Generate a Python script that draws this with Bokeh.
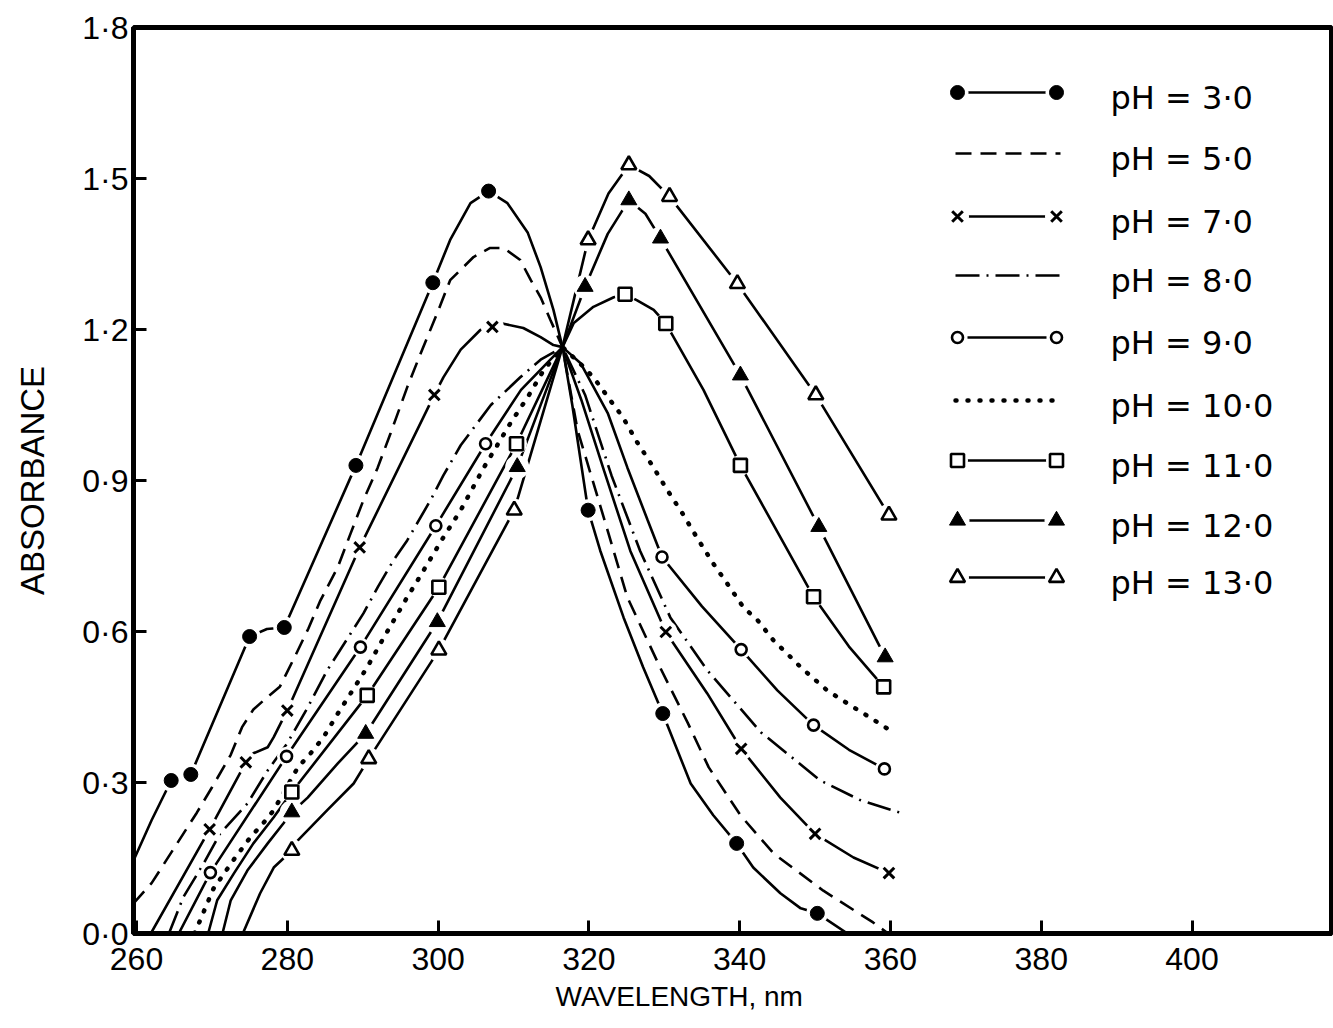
from bokeh.plotting import figure
from bokeh.models import Range1d, FixedTicker, Title, ColumnDataSource
from bokeh.core.properties import value
from bokeh.embed import file_html
from bokeh.resources import INLINE

# ---------------- data ----------------
X_TICKS = [260, 280, 300, 320, 340, 360, 380, 400]
Y_TICKS = [0.0, 0.3, 0.6, 0.9, 1.2, 1.5, 1.8]
Y_TICK_LABELS = ["0·0", "0·3", "0·6", "0·9", "1·2", "1·5", "1·8"]

LABELS = ["pH = 3·0", "pH = 5·0", "pH = 7·0", "pH = 8·0", "pH = 9·0",
          "pH = 10·0", "pH = 11·0", "pH = 12·0", "pH = 13·0"]

# pH 3.0 (filled circles)
WL_PH3 = [259.6, 262.0, 264.6, 267.2, 275.0, 277.3, 279.6, 289.1, 299.3, 301.6, 304.3,
          306.7, 309.2, 311.9, 313.6, 315.3, 316.5, 317.8, 319.9, 321.5, 324.6, 327.2,
          329.8, 333.5, 336.5, 339.6, 341.8, 345.4, 348.1, 350.3, 354.3]
AB_PH3 = [0.145, 0.225, 0.304, 0.316, 0.590, 0.605, 0.608, 0.930, 1.293, 1.378, 1.451,
          1.475, 1.451, 1.392, 1.324, 1.239, 1.165, 1.050, 0.841, 0.761, 0.628, 0.529,
          0.437, 0.298, 0.235, 0.179, 0.131, 0.080, 0.050, 0.040, 0.0]
MK_WL_PH3 = [264.6, 267.2, 275.0, 279.6, 289.1, 299.3, 306.7, 319.9, 329.8, 339.6, 350.3]
MK_AB_PH3 = [0.304, 0.316, 0.590, 0.608, 0.930, 1.293, 1.475, 0.841, 0.437, 0.179, 0.040]

# pH 5.0 (dashed)
WL_PH5 = [259.6, 262.0, 265.0, 268.0, 270.0, 272.5, 274.0, 275.5, 277.0, 279.0, 281.0,
          282.8, 284.4, 286.7, 288.4, 290.1, 292.0, 293.7, 295.9, 297.7, 299.9, 301.6,
          304.7, 306.9, 308.7, 310.9, 312.3, 313.6, 314.9, 316.5, 318.5, 320.5, 322.5,
          325.1, 329.5, 333.1, 335.9, 340.1, 344.5, 351.1, 357.7, 359.7]
AB_PH5 = [0.060, 0.100, 0.170, 0.240, 0.290, 0.355, 0.410, 0.445, 0.465, 0.490, 0.550,
          0.606, 0.662, 0.728, 0.795, 0.861, 0.926, 0.994, 1.085, 1.153, 1.233, 1.298,
          1.344, 1.362, 1.362, 1.338, 1.298, 1.264, 1.219, 1.165, 1.000, 0.900, 0.800,
          0.668, 0.527, 0.419, 0.330, 0.235, 0.159, 0.085, 0.022, 0.0]

# pH 7.0 (crosses)
WL_PH7 = [261.9, 269.7, 274.5, 275.5, 277.4, 278.2, 279.1, 280.0, 289.6, 299.5, 300.7,
          303.0, 305.6, 307.2, 308.5, 311.3, 313.6, 315.3, 316.5, 319.0, 322.0, 325.5,
          330.2, 335.7, 340.2, 345.4, 350.0, 355.1, 359.8]
AB_PH7 = [0.0, 0.207, 0.340, 0.358, 0.370, 0.390, 0.417, 0.443, 0.767, 1.070, 1.105,
          1.160, 1.199, 1.205, 1.212, 1.203, 1.185, 1.169, 1.165, 1.060, 0.920, 0.760,
          0.599, 0.477, 0.367, 0.270, 0.198, 0.151, 0.120]
MK_WL_PH7 = [269.7, 274.5, 280.0, 289.6, 299.5, 307.2, 330.2, 340.2, 350.0, 359.8]
MK_AB_PH7 = [0.207, 0.340, 0.443, 0.767, 1.070, 1.205, 0.599, 0.367, 0.198, 0.120]

# pH 8.0 (dash-dot)
WL_PH8 = [264.3, 266.2, 268.9, 271.1, 274.7, 277.4, 280.0, 282.7, 285.3, 288.4, 290.1,
          292.0, 294.1, 295.9, 299.0, 300.7, 303.0, 307.0, 310.9, 313.6, 316.5, 319.5,
          323.0, 326.8, 330.8, 335.7, 342.8, 350.7, 356.0, 361.3]
AB_PH8 = [0.0, 0.072, 0.139, 0.199, 0.258, 0.324, 0.378, 0.449, 0.523, 0.596, 0.636,
          0.688, 0.742, 0.781, 0.861, 0.910, 0.970, 1.050, 1.105, 1.140, 1.165, 1.070,
          0.910, 0.760, 0.628, 0.523, 0.400, 0.304, 0.265, 0.240]

# pH 9.0 (open circles)
WL_PH9 = [265.6, 269.8, 279.9, 289.7, 299.7, 306.3, 311.0, 316.5, 318.9, 322.5, 325.1,
          327.8, 329.7, 335.0, 340.2, 345.0, 349.8, 354.5, 359.2]
AB_PH9 = [0.0, 0.121, 0.352, 0.569, 0.810, 0.973, 1.080, 1.165, 1.133, 1.034, 0.926,
          0.821, 0.748, 0.650, 0.564, 0.483, 0.414, 0.365, 0.327]
MK_WL_PH9 = [269.8, 279.9, 289.7, 299.7, 306.3, 329.7, 340.2, 349.8, 359.2]
MK_AB_PH9 = [0.121, 0.352, 0.569, 0.810, 0.973, 0.748, 0.564, 0.414, 0.327]

# pH 10.0 (dotted)
WL_PH10 = [267.7, 270.2, 273.1, 275.1, 276.8, 278.2, 281.4, 283.1, 284.8, 286.7, 288.4,
           290.6, 292.8, 295.9, 297.3, 300.7, 303.0, 306.0, 309.6, 311.9, 314.0, 316.5,
           319.5, 320.9, 323.1, 324.5, 326.4, 328.4, 330.4, 332.4, 334.4, 336.5, 338.5,
           340.5, 342.4, 344.5, 346.5, 348.1, 351.6, 354.3, 358.9, 360.3]
AB_PH10 = [0.0, 0.089, 0.151, 0.191, 0.219, 0.245, 0.330, 0.358, 0.390, 0.437, 0.477,
           0.529, 0.588, 0.668, 0.702, 0.787, 0.841, 0.924, 1.014, 1.066, 1.119, 1.165,
           1.123, 1.099, 1.054, 1.026, 0.976, 0.930, 0.881, 0.835, 0.785, 0.735, 0.692,
           0.648, 0.622, 0.582, 0.553, 0.529, 0.483, 0.457, 0.414, 0.400]

# pH 11.0 (open squares)
WL_PH11 = [269.5, 270.7, 272.9, 275.5, 278.2, 280.6, 290.6, 300.1, 310.4, 316.5, 318.0,
           320.6, 323.3, 324.8, 326.4, 328.6, 330.2, 335.2, 340.1, 349.8, 354.5, 359.1]
AB_PH11 = [0.0, 0.066, 0.119, 0.179, 0.231, 0.281, 0.473, 0.688, 0.973, 1.165, 1.213,
           1.245, 1.264, 1.270, 1.258, 1.239, 1.212, 1.080, 0.930, 0.669, 0.570, 0.490]
MK_WL_PH11 = [280.6, 290.6, 300.1, 310.4, 324.8, 330.2, 340.1, 349.8, 359.1]
MK_AB_PH11 = [0.281, 0.473, 0.688, 0.973, 1.270, 1.212, 0.930, 0.669, 0.490]

# pH 12.0 (filled triangles)
WL_PH12 = [271.4, 272.5, 274.7, 277.4, 279.5, 280.6, 282.7, 286.7, 290.4, 299.9, 310.5,
           316.5, 319.5, 322.5, 325.3, 327.5, 329.5, 340.1, 350.5, 359.3]
AB_PH12 = [0.0, 0.066, 0.125, 0.179, 0.219, 0.241, 0.270, 0.338, 0.397, 0.619, 0.927,
           1.165, 1.285, 1.390, 1.457, 1.430, 1.381, 1.109, 0.808, 0.549]
MK_WL_PH12 = [280.6, 290.4, 299.9, 310.5, 319.5, 325.3, 329.5, 340.1, 350.5, 359.3]
MK_AB_PH12 = [0.241, 0.397, 0.619, 0.927, 1.285, 1.457, 1.381, 1.109, 0.808, 0.549]

# pH 13.0 (open triangles)
WL_PH13 = [274.1, 276.4, 278.2, 280.6, 281.4, 285.3, 288.8, 290.8, 300.1, 310.1, 316.5,
           319.9, 322.6, 325.3, 328.0, 330.7, 339.7, 350.1, 359.8]
AB_PH13 = [0.0, 0.080, 0.131, 0.165, 0.185, 0.245, 0.298, 0.347, 0.563, 0.841, 1.165,
           1.378, 1.470, 1.527, 1.505, 1.464, 1.291, 1.070, 0.831]
MK_WL_PH13 = [280.6, 290.8, 300.1, 310.1, 319.9, 325.3, 330.7, 339.7, 350.1, 359.8]
MK_AB_PH13 = [0.165, 0.347, 0.563, 0.841, 1.378, 1.527, 1.464, 1.291, 1.070, 0.831]

# ---------------- layout / style ----------------
X0, X1 = 259.6, 418.5
Y0, Y1 = 0.0, 1.8
FIG_W, FIG_H = 1333, 1024
B_LEFT, B_RIGHT, B_TOP, B_BOTTOM = 133, 2, 27, 91
FRAME_L = B_LEFT
FRAME_T = B_TOP
FRAME_W = FIG_W - B_LEFT - B_RIGHT
FRAME_H = FIG_H - B_TOP - B_BOTTOM


def dx(px):
    return X0 + (px - FRAME_L) * (X1 - X0) / FRAME_W


def dy(py):
    return Y1 - (py - FRAME_T) * (Y1 - Y0) / FRAME_H


p = figure(width=FIG_W, height=FIG_H, output_backend="svg", toolbar_location=None,
           x_range=Range1d(X0, X1), y_range=Range1d(Y0, Y1),
           min_border_left=B_LEFT, min_border_right=B_RIGHT,
           min_border_top=B_TOP, min_border_bottom=B_BOTTOM)
p.background_fill_color = "white"
p.border_fill_color = "white"
p.xgrid.visible = False
p.ygrid.visible = False
p.outline_line_color = "black"
p.outline_line_width = 5

TICK_FONT = "Liberation Sans"
for ax in (p.xaxis[0], p.yaxis[0]):
    ax.axis_line_color = "black"
    ax.axis_line_width = 5
    ax.major_tick_line_color = "black"
    ax.major_tick_line_width = 3
    ax.major_tick_in = 13
    ax.major_tick_out = 0
    ax.minor_tick_line_color = None
    ax.major_label_text_font = TICK_FONT
    ax.major_label_text_font_size = "32px"
    ax.major_label_text_color = "black"

p.xaxis.ticker = FixedTicker(ticks=X_TICKS)
p.xaxis.major_label_standoff = 14
p.yaxis.ticker = FixedTicker(ticks=Y_TICKS)
p.yaxis.major_label_overrides = {t: s for t, s in zip(Y_TICKS, Y_TICK_LABELS)}
p.yaxis.major_label_standoff = 5
p.yaxis.axis_label = "ABSORBANCE"
p.yaxis.axis_label_text_font = TICK_FONT
p.yaxis.axis_label_text_font_size = "33px"
p.yaxis.axis_label_text_font_style = "normal"
p.yaxis.axis_label_text_color = "black"
p.yaxis.axis_label_standoff = 28

p.add_layout(Title(text="WAVELENGTH, nm", align="left", offset=422,
                   text_font=TICK_FONT, text_font_size="28px",
                   text_font_style="normal", text_color="black", standoff=12),
             "below")

LW = 2.6
series = [
    dict(wl=WL_PH3, ab=AB_PH3, mwl=MK_WL_PH3, mab=MK_AB_PH3, dash="solid",
         marker="circle", size=14, fill="black", mlw=1),
    dict(wl=WL_PH5, ab=AB_PH5, dash="16 9", marker=None),
    dict(wl=WL_PH7, ab=AB_PH7, mwl=MK_WL_PH7, mab=MK_AB_PH7, dash="solid",
         marker="x", size=15, fill="black", mlw=3),
    dict(wl=WL_PH8, ab=AB_PH8, dash="24 7 2 7", marker=None),
    dict(wl=WL_PH9, ab=AB_PH9, mwl=MK_WL_PH9, mab=MK_AB_PH9, dash="solid",
         marker="circle", size=11, fill="white", mlw=2.6),
    dict(wl=WL_PH10, ab=AB_PH10, dash="1 11", marker=None, dotted=True),
    dict(wl=WL_PH11, ab=AB_PH11, mwl=MK_WL_PH11, mab=MK_AB_PH11, dash="solid",
         marker="square", size=13, fill="white", mlw=2.6),
    dict(wl=WL_PH12, ab=AB_PH12, mwl=MK_WL_PH12, mab=MK_AB_PH12, dash="solid",
         marker="triangle", size=16, fill="black", mlw=1),
    dict(wl=WL_PH13, ab=AB_PH13, mwl=MK_WL_PH13, mab=MK_AB_PH13, dash="solid",
         marker="triangle", size=15, fill="white", mlw=2.6),
]

LEG_ROWS = [92, 153, 216, 275, 337, 400, 460, 520, 577]
LEG_MK_L, LEG_MK_R = 957, 1056
LEG_LINE_L, LEG_LINE_R = 955, 1060
LEG_TXT = 1110


def line_kw(s):
    kw = dict(line_color="black", line_width=LW)
    if s.get("dotted"):
        kw.update(line_width=4.5, line_cap="round", line_dash=s["dash"])
    elif s["dash"] != "solid":
        kw.update(line_dash=s["dash"])
    return kw


# curves
for s in series:
    p.line(s["wl"], s["ab"], **line_kw(s))

# legend samples (lines)
for s, row in zip(series, LEG_ROWS):
    if s["marker"]:
        xs = [dx(LEG_MK_L + 10), dx(LEG_MK_R - 10)]
    else:
        xs = [dx(LEG_LINE_L), dx(LEG_LINE_R)]
    p.line(xs, [dy(row), dy(row)], **line_kw(s))

# marker halos, then markers
for s, row in zip(series, LEG_ROWS):
    if not s["marker"]:
        continue
    hx = list(s["mwl"]) + [dx(LEG_MK_L), dx(LEG_MK_R)]
    hy = list(s["mab"]) + [dy(row), dy(row)]
    p.scatter(hx, hy, marker="circle", size=s["size"] + 8, fill_color="white",
              line_color=None)
for s, row in zip(series, LEG_ROWS):
    if not s["marker"]:
        continue
    mx = list(s["mwl"]) + [dx(LEG_MK_L), dx(LEG_MK_R)]
    my = list(s["mab"]) + [dy(row), dy(row)]
    p.scatter(mx, my, marker=s["marker"], size=s["size"], fill_color=s["fill"],
              line_color="black", line_width=s["mlw"])

src = ColumnDataSource(dict(x=[dx(LEG_TXT)] * len(LABELS),
                            y=[dy(r + 5) for r in LEG_ROWS], t=LABELS))
p.text(x="x", y="y", text="t", source=src, text_font=value("DejaVu Sans"),
       text_font_size="32px", text_baseline="middle", text_align="left",
       text_color="black")

open("out.html", "w").write(file_html(p, INLINE))
